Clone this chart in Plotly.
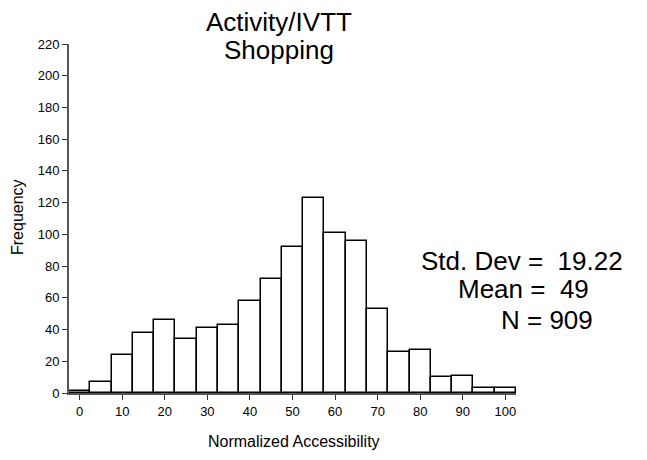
import plotly.graph_objects as go

# Data (bin centers, width 5)
bin_centers = [0, 5, 10, 15, 20, 25, 30, 35, 40, 45, 50, 55, 60, 65, 70, 75, 80, 85, 90, 95, 100]
frequencies = [1, 7, 24, 38, 46, 34, 41, 43, 58, 72, 92, 123, 101, 96, 53, 26, 27, 10, 11, 3, 3]
x_ticks = [0, 10, 20, 30, 40, 50, 60, 70, 80, 90, 100]
y_ticks = [0, 20, 40, 60, 80, 100, 120, 140, 160, 180, 200, 220]
title_lines = ["Activity/IVTT", "Shopping"]
stat_lines = ["Std. Dev =\u00a0\u00a019.22", "Mean =\u00a0\u00a049", "N = 909"]
x_title = "Normalized Accessibility"
y_title = "Frequency"

OFF = 8  # page body margin
W, H = 647, 460
L, T = 69 - OFF, 44 - OFF
pw, ph = 447, 349
R = W - L - pw
B = H - T - ph

def px(sx):
    return (sx - OFF - L) / pw

def py(sy):
    return (T + ph - (sy - OFF)) / ph

FONT = "Liberation Sans, Arial, sans-serif"

fig = go.Figure()
fig.add_trace(go.Bar(
    x=bin_centers, y=frequencies, width=5,
    marker=dict(color="white", line=dict(color="black", width=1.5)),
    showlegend=False, hoverinfo="x+y",
))

annotations = []
for txt, yc in zip(title_lines, [22, 50]):
    annotations.append(dict(text=txt, x=px(279), y=py(yc), xref="paper", yref="paper",
                            xanchor="center", yanchor="middle", showarrow=False, borderpad=0,
                            font=dict(family=FONT, size=26, color="black")))
for txt, xl, yc in zip(stat_lines, [420, 457, 500], [261, 289, 320]):
    annotations.append(dict(text=txt, x=px(xl), y=py(yc), xref="paper", yref="paper",
                            xanchor="left", yanchor="middle", showarrow=False, borderpad=0,
                            font=dict(family=FONT, size=26, color="black")))
annotations.append(dict(text=x_title, x=px(294), y=py(441), xref="paper", yref="paper",
                        xanchor="center", yanchor="middle", showarrow=False,
                        font=dict(family=FONT, size=16, color="black")))
annotations.append(dict(text=y_title, x=px(17), y=py(217), xref="paper", yref="paper",
                        xanchor="center", yanchor="middle", showarrow=False, textangle=-90,
                        font=dict(family=FONT, size=16, color="black")))

fig.update_layout(
    width=W, height=H,
    margin=dict(l=L, r=R, t=T, b=B),
    paper_bgcolor="white", plot_bgcolor="white",
    font=dict(family=FONT, color="black"),
    bargap=0,
    annotations=annotations,
    xaxis=dict(range=[-2.5, 102.5], tickvals=x_ticks, ticks="outside", ticklen=5,
               tickcolor="#333", showline=True, linecolor="#555", linewidth=2,
               showgrid=False, zeroline=False, tickfont=dict(size=13), automargin=False),
    yaxis=dict(range=[0, 220], tickvals=y_ticks, ticks="outside", ticklen=5,
               tickcolor="#333", showline=True, linecolor="#555", linewidth=2,
               showgrid=False, zeroline=False, tickfont=dict(size=13), automargin=False),
)

fig.write_html("out.html")
